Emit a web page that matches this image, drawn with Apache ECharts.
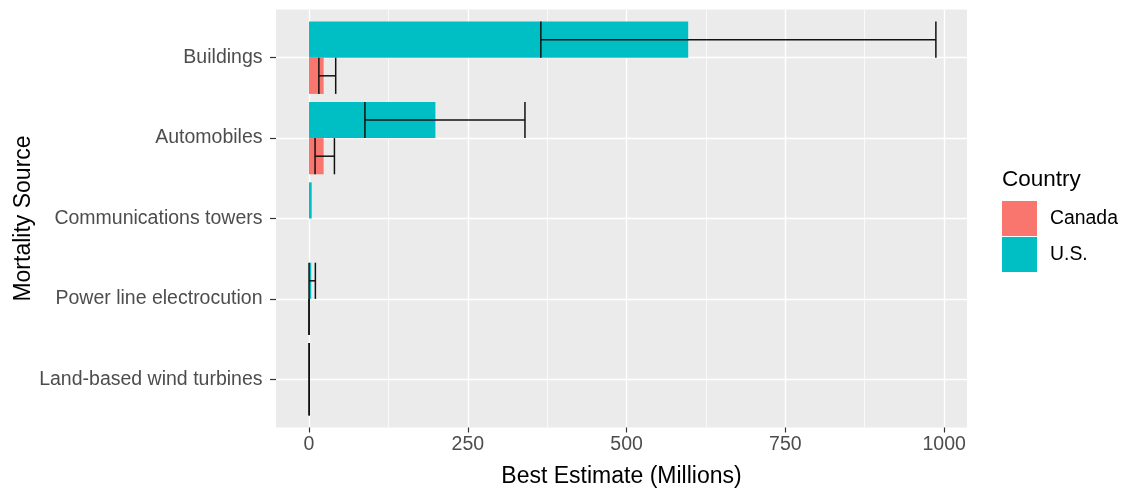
<!DOCTYPE html>
<html>
<head>
<meta charset="utf-8">
<script src="https://cdn.jsdelivr.net/npm/echarts@6/dist/echarts.min.js"></script>
<style>
html,body{margin:0;padding:0;background:#fff;}
#chart{width:1123px;height:488px;}
</style>
</head>
<body>
<div id="chart"></div>
<script>
// ---- data (bottom to top) ----
var categories = ['Land-based wind turbines', 'Power line electrocution', 'Communications towers', 'Automobiles', 'Buildings'];
var usValues = [0.23, 3.5, 4.2, 199, 597];
var usLow    = [0.14, 0, null, 88, 365];
var usHigh   = [0.33, 10, null, 340, 987];
var caValues = [null, 0.03, 0.05, 23, 23];
var caLow    = [null, 0, null, 9.5, 15.5];
var caHigh   = [null, 0.06, null, 40, 42];
var xTicks = [0, 250, 500, 750, 1000];
var xMinorTicks = [125, 375, 625, 875];
var yTicks = [0, 1, 2, 3, 4];

var FONT = 'Liberation Sans, Arial, sans-serif';
var US_COLOR = '#00BFC4', CA_COLOR = '#F8766D';

function slot(i, sign) {
  var both = usValues[i] != null && caValues[i] != null;
  if (both) return {c: i + sign * 0.225, h: 0.225};
  return {c: i, h: 0.45};
}

function barData(vals) {
  var out = [];
  vals.forEach(function (v, i) { if (v != null) out.push([v, i]); });
  return out;
}
function errData(lo, hi) {
  var out = [];
  lo.forEach(function (v, i) { if (v != null && hi[i] != null) out.push([v, hi[i], i]); });
  return out;
}

function makeBarRender(sign, color) {
  return function (params, api) {
    var v = api.value(0), i = api.value(1);
    var s = slot(i, sign);
    var p0 = api.coord([0, s.c + s.h]);
    var p1 = api.coord([v, s.c - s.h]);
    return {
      type: 'rect',
      shape: {x: p0[0], y: p0[1], width: p1[0] - p0[0], height: p1[1] - p0[1]},
      style: {fill: color}
    };
  };
}
function makeErrRender(sign) {
  return function (params, api) {
    var lo = api.value(0), hi = api.value(1), i = api.value(2);
    var s = slot(i, sign);
    var a = api.coord([lo, s.c]), b = api.coord([hi, s.c]);
    var top = api.coord([lo, s.c + s.h])[1], bot = api.coord([lo, s.c - s.h])[1];
    var st = {stroke: '#111', lineWidth: 1.5, fill: null};
    return {
      type: 'group',
      children: [
        {type: 'line', shape: {x1: a[0], y1: a[1], x2: b[0], y2: b[1]}, style: st},
        {type: 'line', shape: {x1: a[0], y1: top, x2: a[0], y2: bot}, style: st},
        {type: 'line', shape: {x1: b[0], y1: top, x2: b[0], y2: bot}, style: st}
      ]
    };
  };
}

var chart = echarts.init(document.getElementById('chart'), null, {renderer: 'canvas'});
chart.setOption({
  animation: false,
  backgroundColor: '#ffffff',
  color: [CA_COLOR, US_COLOR],
  textStyle: {fontFamily: FONT},
  title: {
    text: 'Country', left: 1002, top: 168, padding: 0,
    textStyle: {fontFamily: FONT, fontSize: 22.5, fontWeight: 'normal', color: '#000'}
  },
  legend: {
    data: [{name: 'Canada', icon: 'rect'}, {name: 'U.S.', icon: 'rect'}],
    orient: 'vertical', left: 1002, top: 201, padding: 0,
    itemWidth: 35, itemHeight: 35, itemGap: 1,
    textStyle: {fontFamily: FONT, fontSize: 19.4, color: '#000', padding: [0, 0, 0, 8]},
    selectedMode: false
  },
  grid: {
    left: 276, right: 156, top: 9.5, bottom: 60.5,
    outerBoundsMode: 'none', containLabel: false,
    show: true, backgroundColor: '#EBEBEB', borderWidth: 0
  },
  xAxis: [{
    type: 'value', min: -52, max: 1036,
    name: 'Best Estimate (Millions)', nameLocation: 'middle', nameGap: 38,
    nameTextStyle: {fontFamily: FONT, fontSize: 23, color: '#000'},
    axisLine: {show: false, onZero: false},
    axisTick: {show: true, length: 5, lineStyle: {color: '#333', width: 1.2}, customValues: xTicks},
    axisLabel: {customValues: xTicks, fontFamily: FONT, fontSize: 19.5, color: '#4D4D4D', margin: 7,
      formatter: function (v) { return String(v); }},
    splitLine: {show: true, lineStyle: {color: '#ffffff', width: 1.4}}
  }, {
    type: 'value', min: -52, max: 1036, position: 'top',
    axisLine: {show: false, onZero: false},
    axisTick: {show: false, customValues: xMinorTicks},
    axisLabel: {show: false, customValues: xMinorTicks},
    splitLine: {show: true, lineStyle: {color: '#ffffff', width: 0.7}}
  }],
  yAxis: {
    type: 'value', min: -0.6, max: 4.6,
    name: 'Mortality Source', nameLocation: 'middle', nameGap: 252, nameMoveOverlap: false,
    nameTextStyle: {fontFamily: FONT, fontSize: 23, color: '#000', verticalAlign: 'middle'},
    axisLine: {show: false, onZero: false},
    axisTick: {show: true, length: 6, lineStyle: {color: '#333', width: 1.2}, customValues: yTicks},
    axisLabel: {
      customValues: yTicks, fontFamily: FONT, fontSize: 19.5, color: '#4D4D4D', margin: 13.5,
      formatter: function (v) { return categories[Math.round(v)] || ''; }
    },
    splitLine: {show: true, lineStyle: {color: '#ffffff', width: 1.4}}
  },
  series: [
    {name: 'Canada', type: 'custom', renderItem: makeBarRender(-1, CA_COLOR),
     itemStyle: {color: CA_COLOR}, encode: {x: 0, y: 1}, data: barData(caValues), z: 2},
    {name: 'U.S.', type: 'custom', renderItem: makeBarRender(1, US_COLOR),
     itemStyle: {color: US_COLOR}, encode: {x: 0, y: 1}, data: barData(usValues), z: 2},
    {name: 'Canada errors', type: 'custom', renderItem: makeErrRender(-1),
     encode: {x: [0, 1], y: 2}, data: errData(caLow, caHigh), z: 3},
    {name: 'U.S. errors', type: 'custom', renderItem: makeErrRender(1),
     encode: {x: [0, 1], y: 2}, data: errData(usLow, usHigh), z: 3}
  ]
});
</script>
</body>
</html>
